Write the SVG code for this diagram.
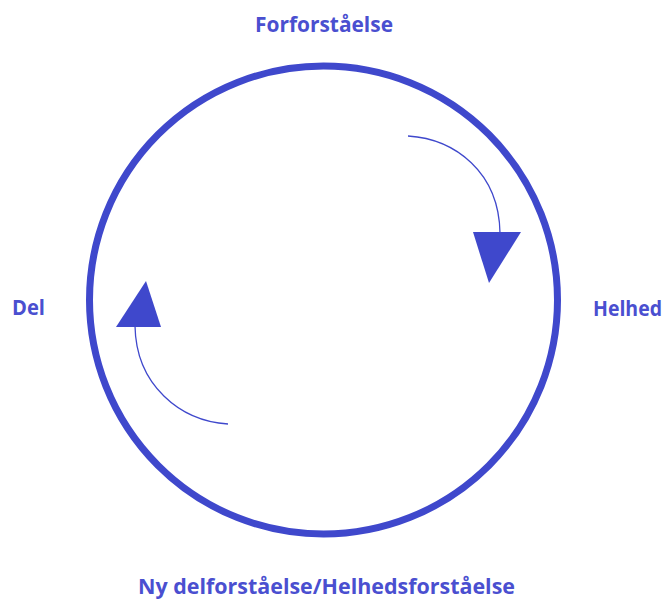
<svg xmlns="http://www.w3.org/2000/svg" width="667" height="603" viewBox="0 0 667 603">
<style>
.lbl{font-family:"Open Sans","Liberation Sans",sans-serif;font-weight:bold;font-size:21px;fill:#4a4fd0}
.thin{fill:none;stroke:#3f48cc;stroke-width:1.3}
.head{fill:#3f48cc}
</style>
<rect width="667" height="603" fill="#ffffff"/>
<g id="cycle">
<circle cx="323.5" cy="300" r="234" fill="none" stroke="#3f48cc" stroke-width="7"/>
</g>
<g id="connectors">
<path class="thin" d="M408,136 C455,139 499,172 500,233"/>
<polygon class="head" points="473,232 521,232 489,283"/>
<path class="thin" d="M135,326 C136,385 180,421 228,424"/>
<polygon class="head" points="116,327 161,327 146,281"/>
</g>
<g id="forforstaaelse"><text class="lbl" x="255" y="32" textLength="138" lengthAdjust="spacingAndGlyphs">Forforståelse</text></g>
<g id="del"><text class="lbl" x="12" y="315" textLength="33" lengthAdjust="spacingAndGlyphs">Del</text></g>
<g id="helhed"><text class="lbl" x="593" y="316" textLength="69" lengthAdjust="spacingAndGlyphs">Helhed</text></g>
<g id="ny"><text class="lbl" x="138" y="594" textLength="377" lengthAdjust="spacingAndGlyphs">Ny delforståelse/Helhedsforståelse</text></g>
</svg>
